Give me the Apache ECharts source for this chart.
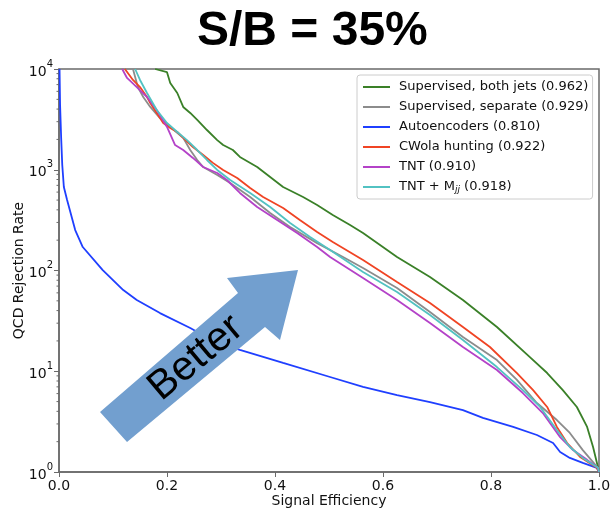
<!DOCTYPE html>
<html>
<head>
<meta charset="utf-8">
<script src="https://cdn.jsdelivr.net/npm/echarts@6/dist/echarts.min.js"></script>
<style>html,body{margin:0;padding:0;background:#fff;}#c{width:611px;height:508px;}</style>
</head>
<body>
<div id="c"></div>
<script>
// ---- data ----
const seriesNames = ['Supervised, both jets (0.962)', 'Supervised, separate (0.929)', 'Autoencoders (0.810)', 'CWola hunting (0.922)', 'TNT (0.910)', 'TNT + Mjj (0.918)'];

const supBothX = [0.178, 0.200, 0.206, 0.219, 0.230, 0.243, 0.256, 0.274, 0.293, 0.304, 0.322, 0.335, 0.367, 0.391, 0.415, 0.452, 0.478, 0.507, 0.539, 0.563, 0.626, 0.687, 0.748, 0.811, 0.872, 0.904, 0.933, 0.959, 0.978, 0.989, 0.998, 1.0];
const supBothY = [10000, 9300, 7260, 5780, 4200, 3660, 3120, 2480, 1970, 1760, 1570, 1340, 1065, 847, 674, 537, 447, 356, 283, 236, 136, 86, 51, 27.5, 13.8, 9.6, 6.5, 4.42, 2.80, 1.77, 1.12, 1];

const supSepX = [0.137, 0.141, 0.146, 0.156, 0.169, 0.187, 0.206, 0.230, 0.243, 0.256, 0.267, 0.293, 0.317, 0.354, 0.391, 0.428, 0.478, 0.526, 0.563, 0.626, 0.687, 0.748, 0.811, 0.848, 0.885, 0.922, 0.946, 0.970, 0.998, 1.0];
const supSepY = [10000, 8320, 6620, 5270, 4200, 3260, 2660, 2070, 1570, 1250, 1065, 887, 738, 537, 372, 270, 187, 136, 106, 67, 38.7, 21.9, 12.9, 8.2, 4.84, 3.28, 2.44, 1.65, 1.1, 1];

const autoX = [0.001, 0.002, 0.004, 0.006, 0.009, 0.015, 0.030, 0.044, 0.081, 0.119, 0.144, 0.187, 0.243, 0.293, 0.335, 0.415, 0.502, 0.563, 0.626, 0.687, 0.748, 0.785, 0.841, 0.885, 0.915, 0.928, 0.946, 0.970, 0.996, 1.0];
const autoY = [10000, 4400, 2070, 1120, 675, 500, 252, 171, 101, 64, 51, 37.8, 26.9, 19.1, 16.3, 12.1, 8.77, 6.98, 5.81, 4.95, 4.12, 3.44, 2.80, 2.33, 1.94, 1.58, 1.38, 1.23, 1.10, 1.0];

const cwolaX = [0.122, 0.137, 0.150, 0.163, 0.169, 0.181, 0.193, 0.206, 0.219, 0.230, 0.248, 0.267, 0.285, 0.304, 0.330, 0.354, 0.378, 0.415, 0.446, 0.478, 0.507, 0.563, 0.626, 0.687, 0.748, 0.798, 0.848, 0.878, 0.904, 0.922, 0.941, 0.965, 0.996, 1.0];
const cwolaY = [10000, 7780, 6620, 5270, 4600, 3660, 2910, 2600, 2370, 2070, 1680, 1400, 1170, 995, 828, 659, 537, 417, 317, 241, 192, 127, 76.9, 47.6, 27.5, 17.4, 9.6, 6.5, 4.42, 2.80, 1.94, 1.41, 1.10, 1];

const tntX = [0.117, 0.126, 0.144, 0.163, 0.181, 0.200, 0.215, 0.230, 0.248, 0.267, 0.293, 0.311, 0.335, 0.367, 0.404, 0.441, 0.478, 0.502, 0.563, 0.626, 0.687, 0.748, 0.811, 0.859, 0.896, 0.928, 0.952, 0.978, 0.998, 1.0];
const tntY = [10000, 8150, 6620, 5270, 3920, 2660, 1760, 1570, 1310, 1065, 929, 791, 588, 427, 317, 236, 171, 136, 84.3, 51, 30.1, 17.4, 10.3, 6.08, 3.85, 2.22, 1.65, 1.32, 1.1, 1];

const tntMjjX = [0.141, 0.150, 0.163, 0.181, 0.200, 0.219, 0.237, 0.256, 0.274, 0.293, 0.317, 0.354, 0.391, 0.428, 0.465, 0.502, 0.563, 0.626, 0.687, 0.748, 0.811, 0.859, 0.891, 0.922, 0.946, 0.970, 0.998, 1.0];
const tntMjjY = [10000, 7780, 5780, 3920, 2910, 2370, 1970, 1570, 1250, 995, 791, 588, 427, 296, 215, 160, 96.7, 61.2, 36.1, 20.4, 11.0, 6.5, 4.42, 2.61, 1.77, 1.38, 1.1, 1];

const xTicks = [0, 0.2, 0.4, 0.6, 0.8, 1.0];
const yMinorTicks = [2,3,4,5,6,7,8,9,20,30,40,50,60,70,80,90,200,300,400,500,600,700,800,900,2000,3000,4000,5000,6000,7000,8000,9000];

// ---- build ----
const colors = ['#3a8028', '#8c8c8c', '#1f3fff', '#f04424', '#b442c8', '#52c2c2'];
const xs = [supBothX, supSepX, autoX, cwolaX, tntX, tntMjjX];
const ys = [supBothY, supSepY, autoY, cwolaY, tntY, tntMjjY];
const pair = (a, b) => a.map((v, i) => [v, b[i]]);

const lineSeries = seriesNames.map((n, i) => ({
  name: n, type: 'line', data: pair(xs[i], ys[i]), showSymbol: false, symbol: 'none',
  color: colors[i], lineStyle: { color: colors[i], width: 1.8 }, z: 2 + i, animation: false
}));

const chart = echarts.init(document.getElementById('c'), null, { renderer: 'canvas' });
const axisColor = '#6a6a6a';
chart.setOption({
  animation: false,
  backgroundColor: '#fff',
  title: {
    text: 'S/B = 35%', left: 197, top: 8, padding: 0,
    textStyle: { fontFamily: 'Liberation Sans', fontWeight: 'bold', fontSize: 48, color: '#000' }
  },
  grid: { left: 59, right: 12, top: 69, bottom: 36, outerBoundsMode: 'none', containLabel: false, show: true, borderColor: axisColor, borderWidth: 1.5, backgroundColor: 'transparent' },
  legend: {
    data: seriesNames, orient: 'vertical', left: 357, top: 75,
    padding: [5, 4, 5, 6], itemGap: 6, itemWidth: 27, itemHeight: 2, icon: 'rect',
    backgroundColor: '#fff', borderColor: '#cccccc', borderWidth: 1, borderRadius: 3,
    formatter: function (name) {
      if (name === 'TNT + Mjj (0.918)') return '{n|TNT + M}{s|jj}{n| (0.918)}';
      return '{n|' + name + '}';
    },
    textStyle: {
      fontFamily: 'DejaVu Sans', fontSize: 13, color: '#111', lineHeight: 14, padding: [0, 0, 0, 4],
      rich: {
        n: { fontFamily: 'DejaVu Sans', fontSize: 13, color: '#111', lineHeight: 14 },
        s: { fontFamily: 'DejaVu Sans', fontSize: 9, fontStyle: 'italic', color: '#111', lineHeight: 14, verticalAlign: 'bottom', padding: [4, 0, 0, 0] }
      }
    }
  },
  xAxis: {
    type: 'value', min: 0, max: 1, interval: 0.2,
    name: 'Signal Efficiency', nameLocation: 'middle', nameGap: 22, nameMoveOverlap: false,
    nameTextStyle: { fontFamily: 'DejaVu Sans', fontSize: 14, color: '#111' },
    axisLine: { show: true, lineStyle: { color: axisColor, width: 1.5 } },
    axisTick: { show: true, inside: false, length: 5, lineStyle: { color: axisColor } },
    axisLabel: { margin: 7, fontFamily: 'DejaVu Sans', fontSize: 14, color: '#111', formatter: v => v.toFixed(1) },
    splitLine: { show: false }
  },
  yAxis: {
    type: 'log', logBase: 10, min: 1, max: 10000,
    name: 'QCD Rejection Rate', nameLocation: 'middle', nameGap: 33, nameMoveOverlap: false,
    nameTextStyle: { fontFamily: 'DejaVu Sans', fontSize: 14, color: '#111' },
    axisLine: { show: true, lineStyle: { color: axisColor, width: 1.5 } },
    axisTick: { show: true, inside: false, length: 5, lineStyle: { color: axisColor } },
    axisLabel: {
      margin: 6, fontFamily: 'DejaVu Sans', fontSize: 14, color: '#111',
      formatter: v => '{b|10}{s|' + Math.round(Math.log10(v)) + '}',
      rich: {
        b: { fontFamily: 'DejaVu Sans', fontSize: 14, color: '#111', lineHeight: 20, verticalAlign: 'bottom', padding: [0, 0, 0, 0] },
        s: { fontFamily: 'DejaVu Sans', fontSize: 10, color: '#111', lineHeight: 20, verticalAlign: 'top', padding: [0, 0, 0, 0] }
      }
    },
    splitLine: { show: false }
  },
  series: lineSeries.concat([{
    type: 'custom', silent: true, clip: false, z: 1,
    data: yMinorTicks.map(v => [0, v]),
    renderItem: function (params, api) {
      const p = api.coord([0, api.value(1)]);
      return { type: 'line', shape: { x1: p[0] - 2.5, y1: p[1], x2: p[0], y2: p[1] }, style: { stroke: axisColor, lineWidth: 1 } };
    }
  }]),
  graphic: [
    {
      type: 'polygon', z: 50,
      shape: { points: [[100, 412], [127, 442], [265, 327], [280, 340], [298, 270], [227, 278], [238, 293]] },
      style: { fill: '#729fcf' }
    },
    {
      type: 'text', z: 51, x: 196, y: 358, rotation: 40 * Math.PI / 180,
      style: { text: 'Better', fontFamily: 'Liberation Sans', fontSize: 41, fill: '#000', align: 'center', verticalAlign: 'middle' }
    }
  ]
});
</script>
</body>
</html>
